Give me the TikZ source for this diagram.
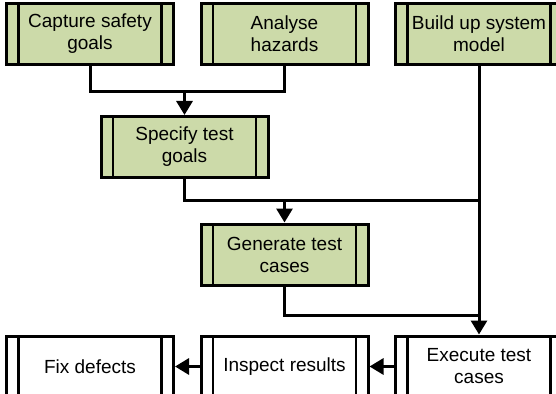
\documentclass[tikz,border=0pt]{standalone}
\usepackage{fontspec}
\setmainfont{Liberation Sans}
\usetikzlibrary{arrows.meta, positioning}
\definecolor{taskgreen}{HTML}{CCDAA9}

\begin{document}
\begin{tikzpicture}[x=1pt, y=-1pt,
    procbox/.style={draw, line width=3pt, minimum width=167pt, minimum height=61pt,
        align=center, font=\fontsize{19}{22}\selectfont, inner sep=0pt,
        path picture={
            \draw[line width=2.5pt] ([xshift=12pt]path picture bounding box.north west)
                -- ([xshift=12pt]path picture bounding box.south west);
            \draw[line width=2.5pt] ([xshift=-12pt]path picture bounding box.north east)
                -- ([xshift=-12pt]path picture bounding box.south east);
        }},
    greenbox/.style={procbox, fill=taskgreen},
    link/.style={line width=3pt},
    arrowlink/.style={link, -{Triangle[width=16pt, length=14pt]}}]
    \useasboundingbox (0,0) rectangle (556,393);
    \clip (0,0) rectangle (556,393);

    % Analysis steps
    \node[greenbox] (cap)  at (90,34)     {Capture safety\\goals};
    \node[greenbox] (ana)  at (284.5,34)  {Analyse\\hazards};
    \node[greenbox] (sys)  at (479,34)    {Build up system\\model};
    \node[greenbox] (spec) at (184.5,147) {Specify test\\goals};
    \node[greenbox] (gen)  at (284.5,254.5) {Generate test\\cases};

    % Test run
    \node[procbox] (fix)  at (90,366.5)  {Fix defects};
    \node[procbox] (insp) at (284.5,366.5) {Inspect results};
    \node[procbox] (exec) at (479,366.5) {Execute test\\cases};

    % Junctions
    \coordinate (j1) at (184.5,92);
    \coordinate (j2) at (284.5,200);
    \coordinate (j3) at (479,315);

    \draw[link] (cap.south) |- (ana.south |- j1) -- (ana.south);
    \draw[arrowlink] (j1) -- (spec.north);
    \draw[link] (spec.south) |- (j2 -| sys.south);
    \draw[arrowlink] (j2) -- (gen.north);
    \draw[arrowlink] (sys.south) -- (exec.north);
    \draw[link] (gen.south) |- (j3);
    \draw[arrowlink] (exec) -- (insp);
    \draw[arrowlink] (insp) -- (fix);
\end{tikzpicture}
\end{document}
